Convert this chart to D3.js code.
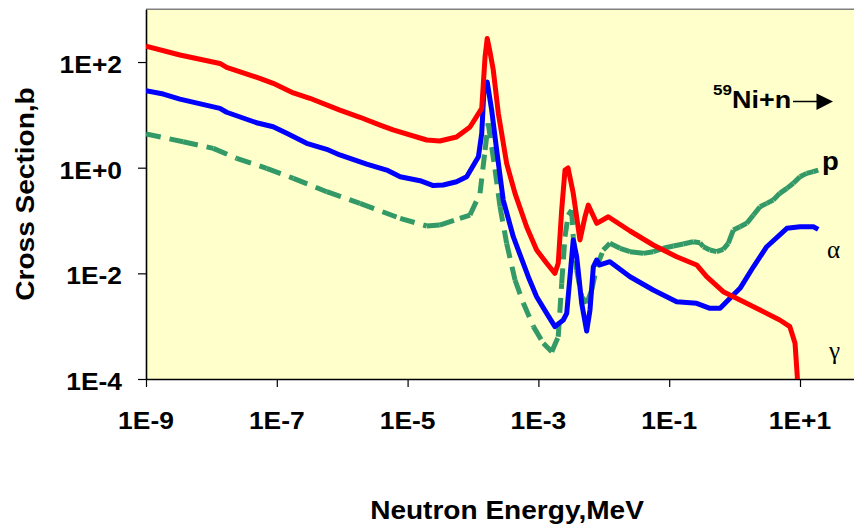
<!DOCTYPE html>
<html>
<head>
<meta charset="utf-8">
<script src="https://cdn.jsdelivr.net/npm/d3@7"></script>
<style>
  html, body { margin: 0; padding: 0; background: #ffffff; }
  svg { display: block; }
  text { font-family: "Liberation Sans", Arial, sans-serif; font-weight: bold; fill: #000; }
</style>
</head>
<body>
<svg id="chart" width="854" height="527"></svg>
<script>
// Axis ticks
const xTickValues = [1e-9, 1e-7, 1e-5, 1e-3, 1e-1, 1e1];
const xTickLabels = ["1E-9", "1E-7", "1E-5", "1E-3", "1E-1", "1E+1"];
const yTickValues = [1e-4, 1e-2, 1e0, 1e2];
const yTickLabels = ["1E-4", "1E-2", "1E+0", "1E+2"];

// (n,gamma) cross section, barns vs neutron energy, MeV
const gammaEnergy = [1e-9, 3.3e-9, 1.35e-8, 1.71e-8, 5.5e-8, 8.8e-8, 1.79e-7, 3.2e-7, 9.2e-7, 1.87e-6,
  3.8e-6, 6.0e-6, 1.96e-5, 3.1e-5, 5.6e-5, 9.0e-5, 1.36e-4, 1.53e-4, 1.65e-4, 1.82e-4,
  2.04e-4, 2.44e-4, 3.27e-4, 4.39e-4, 6.6e-4, 9.4e-4, 1.34e-3, 1.79e-3, 2.01e-3, 2.27e-3,
  2.55e-3, 2.84e-3, 3.41e-3, 4.32e-3, 5.16e-3, 5.79e-3, 7.8e-3, 1.17e-2, 2.52e-2, 5.7e-2,
  0.13, 0.263, 0.374, 0.67, 1.21, 2.45, 4.9, 7.0, 8.4, 9.1, 9.2];
const gammaXS = [200, 136, 94, 79, 49, 39.5, 26, 20.6, 12.3, 9.0,
  6.4, 5.2, 3.34, 3.2, 3.8, 5.9, 13.3, 126, 280, 155,
  71, 10.7, 1.21, 0.327, 0.0763, 0.0276, 0.0155, 0.0100, 0.0155, 0.158,
  0.90, 0.99, 0.327, 0.0428, 0.118, 0.196, 0.0885, 0.118, 0.0633, 0.0344,
  0.0206, 0.0144, 0.00863, 0.00449, 0.00313, 0.00202, 0.00131, 0.00098, 0.000473, 0.000110, 0.00005];

// (n,alpha) cross section
const alphaEnergy = [1e-9, 1.84e-9, 3.3e-9, 1.35e-8, 1.71e-8, 4.9e-8, 8.8e-8, 1.42e-7, 2.86e-7, 5.8e-7,
  9.2e-7, 2.37e-6, 4.8e-6, 7.7e-6, 1.55e-5, 2.47e-5, 3.5e-5, 5.6e-5, 8.0e-5, 1.21e-4,
  1.36e-4, 1.47e-4, 1.65e-4, 1.93e-4, 2.30e-4, 2.90e-4, 4.13e-4, 7.0e-4, 9.4e-4, 1.34e-3,
  1.79e-3, 2.40e-3, 2.71e-3, 3.04e-3, 3.41e-3, 3.85e-3, 4.59e-3, 5.47e-3, 6.15e-3, 6.92e-3,
  7.8e-3, 8.7e-3, 1.24e-2, 2.52e-2, 5.7e-2, 0.13, 0.263, 0.42, 0.60, 0.85,
  1.21, 1.94, 3.1, 6.3, 10, 16, 19];
const alphaXS = [28.6, 24.8, 19.9, 13.3, 11.2, 7.1, 5.96, 4.47, 2.89, 2.23,
  1.74, 1.17, 0.90, 0.675, 0.567, 0.459, 0.47, 0.542, 0.675, 1.61,
  4.47, 29.5, 41.8, 12.3, 2.16, 0.244, 0.0493, 0.00863, 0.00361, 0.00175,
  0.00098, 0.00131, 0.00175, 0.00863, 0.0428, 0.0206, 0.00271, 0.00081, 0.00202, 0.0133,
  0.0179, 0.0144, 0.0166, 0.00863, 0.00483, 0.0029, 0.00271, 0.00218, 0.00218, 0.00337,
  0.0052, 0.0133, 0.0319, 0.0711, 0.0763, 0.0763, 0.068];

// (n,p) cross section
const protonEnergy = [1e-9, 3.7e-9, 1.07e-8, 2.44e-8, 7.0e-8, 1.79e-7, 5.8e-7, 1.87e-6, 7.7e-6, 1.96e-5,
  3.1e-5, 6.3e-5, 9.0e-5, 1.28e-4, 1.53e-4, 1.71e-4, 2.17e-4, 2.59e-4, 3.27e-4, 4.39e-4,
  5.9e-4, 8.4e-4, 1.19e-3, 1.60e-3, 2.01e-3, 2.27e-3, 2.55e-3, 2.86e-3, 3.22e-3, 3.41e-3,
  3.85e-3, 4.59e-3, 5.47e-3, 6.53e-3, 7.8e-3, 9.8e-3, 1.24e-2, 1.77e-2, 2.52e-2, 4.0e-2,
  5.7e-2, 8.1e-2, 0.116, 0.164, 0.233, 0.296, 0.332, 0.42, 0.53, 0.67,
  0.80, 0.955, 1.21, 1.53, 1.94, 2.45, 3.1, 3.9, 4.9, 6.3,
  7.9, 10, 12.6, 16, 19];
const protonXS = [4.34, 3.10, 2.32, 1.50, 0.972, 0.629, 0.351, 0.211, 0.110, 0.0787,
  0.0822, 0.110, 0.127, 0.327, 2.16, 6.9, 0.929, 0.182, 0.037, 0.00748,
  0.00271, 0.00098, 0.000473, 0.000328, 0.000631, 0.00647, 0.0493, 0.127, 0.158, 0.0493,
  0.0116, 0.00361, 0.00271, 0.00483, 0.0133, 0.0276, 0.037, 0.0298, 0.0257, 0.0239,
  0.0257, 0.0298, 0.0329, 0.0359, 0.0397, 0.038, 0.0319, 0.0276, 0.0257, 0.0285,
  0.037, 0.066, 0.0763, 0.0885, 0.127, 0.182, 0.211, 0.244, 0.327, 0.406,
  0.506, 0.675, 0.78, 0.84, 0.90];

const svg = d3.select("#chart");
const TEXT_STRETCH = 1.1;

const x = d3.scaleLog().domain([1e-9, 1e2]).range([146, 865.4]);
const y = d3.scaleLog().domain([1e-4, 1e3]).range([379, 9.2]);

const [x0, x1] = x.range();
const [yb, yt] = y.range();

// plot area
svg.append("rect")
  .attr("x", x0).attr("y", yt)
  .attr("width", x1 - x0).attr("height", yb - yt)
  .attr("fill", "#FFFFCC");

svg.append("line")
  .attr("x1", x0).attr("x2", x1).attr("y1", yt).attr("y2", yt)
  .attr("stroke", "#808080").attr("stroke-width", 1.5);

svg.append("defs").append("clipPath").attr("id", "plotClip")
  .append("rect").attr("x", x0).attr("y", yt).attr("width", x1 - x0).attr("height", yb - yt);

// axes
const xAxis = d3.axisBottom(x).tickValues(xTickValues).tickFormat("").tickSizeInner(8).tickSizeOuter(0);
const yAxis = d3.axisLeft(y).tickValues(yTickValues).tickFormat("").tickSizeInner(8).tickSizeOuter(0);

const gx = svg.append("g").attr("transform", `translate(0,${yb})`).call(xAxis);
const gy = svg.append("g").attr("transform", `translate(${x0},0)`).call(yAxis);
[gx, gy].forEach(g => {
  g.select(".domain").attr("stroke", "#000").attr("stroke-width", 1.6);
  g.selectAll(".tick line").attr("stroke", "#000").attr("stroke-width", 1.2);
});

// tick labels
xTickValues.forEach((v, i) => {
  svg.append("g")
    .attr("transform", `translate(${x(v)},429) scale(${TEXT_STRETCH},1)`)
    .append("text").attr("text-anchor", "middle").style("font-size", "24px")
    .text(xTickLabels[i]);
});
yTickValues.forEach((v, i) => {
  svg.append("g")
    .attr("transform", `translate(122,${y(v) + 11}) scale(${TEXT_STRETCH},1)`)
    .append("text").attr("text-anchor", "end").style("font-size", "24px")
    .text(yTickLabels[i]);
});

// axis titles
svg.append("g")
  .attr("transform", `translate(507,519) scale(${TEXT_STRETCH},1)`)
  .append("text").attr("text-anchor", "middle").style("font-size", "25.5px")
  .text("Neutron Energy,MeV");
svg.append("g")
  .attr("transform", `translate(34,194) rotate(-90) scale(${TEXT_STRETCH},1)`)
  .append("text").attr("text-anchor", "middle").style("font-size", "25.5px")
  .text("Cross Section,b");

// curves
const line = d3.line().x(d => x(d[0])).y(d => y(d[1]));
const plot = svg.append("g").attr("clip-path", "url(#plotClip)");

const proton = d3.zip(protonEnergy, protonXS);
// dashed series: the dash pattern restarts on every segment
plot.append("g").selectAll("path")
  .data(d3.pairs(proton))
  .join("path")
  .attr("d", d => line(d))
  .attr("fill", "none")
  .attr("stroke", "#339966")
  .attr("stroke-width", 5)
  .attr("stroke-dasharray", "15,9");

plot.append("path")
  .datum(d3.zip(alphaEnergy, alphaXS))
  .attr("d", line)
  .attr("fill", "none")
  .attr("stroke", "#0000FF")
  .attr("stroke-width", 5)
  .attr("stroke-linejoin", "round");

plot.append("path")
  .datum(d3.zip(gammaEnergy, gammaXS))
  .attr("d", line)
  .attr("fill", "none")
  .attr("stroke", "#FF0000")
  .attr("stroke-width", 5)
  .attr("stroke-linejoin", "round");

// reaction annotation
const ann = svg.append("g").attr("transform", `translate(713,108) scale(${TEXT_STRETCH},1)`);
const annText = ann.append("text").style("font-size", "24.5px");
annText.append("tspan").attr("dy", -13).style("font-size", "15.5px").text("59");
annText.append("tspan").attr("dy", 13).text("Ni+n");
svg.append("line")
  .attr("x1", 793).attr("x2", 818).attr("y1", 101.5).attr("y2", 101.5)
  .attr("stroke", "#000").attr("stroke-width", 1.5);
svg.append("path")
  .attr("d", "M816.5,93.5 L833,101.5 L816.5,110 Z")
  .attr("fill", "#000");

// series labels
svg.append("g").attr("transform", `translate(822,170) scale(${TEXT_STRETCH},1)`)
  .append("text").style("font-size", "25px").text("p");
svg.append("text").attr("x", 827).attr("y", 258)
  .style("font-family", "'Liberation Serif', 'Times New Roman', serif")
  .style("font-weight", "normal").style("font-size", "25px").text("α");
svg.append("text").attr("x", 829).attr("y", 359)
  .style("font-family", "'Liberation Serif', 'Times New Roman', serif")
  .style("font-weight", "normal").style("font-size", "25px").text("γ");
</script>
</body>
</html>
